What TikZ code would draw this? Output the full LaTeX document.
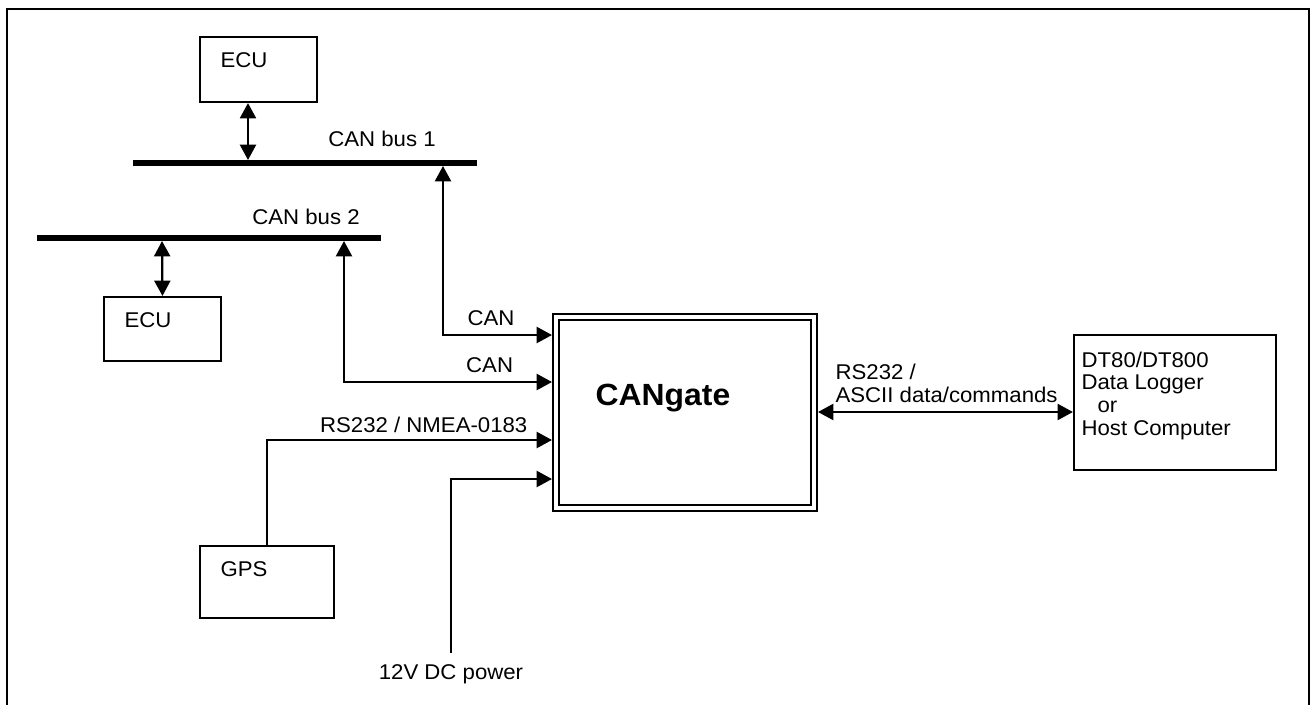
\documentclass[tikz,border=0pt]{standalone}
\usepackage{fontspec}
\setmainfont{Liberation Sans}[FakeStretch=1.04]
\usetikzlibrary{arrows.meta, positioning}

\begin{document}
\begin{tikzpicture}[
        x=0.75pt, y=-0.75pt,
        every node/.style={font=\fontsize{16}{17}\selectfont},
        unit/.style={rectangle, draw, line width=1.6pt, inner sep=0pt},
        gate/.style={rectangle, draw, line width=1.6pt, double, double distance=2.8pt, outer sep=3pt, minimum width=193.5pt, minimum height=143.25pt},
        bus/.style={line width=5pt},
        arrow/.style={-{Triangle[length=11.5pt,width=12pt]}, line width=1.7pt},
        biarrow/.style={{Triangle[length=11.5pt,width=12pt]}-{Triangle[length=11.5pt,width=12pt]}, line width=1.7pt},
        lbl/.style={inner sep=1pt, align=left},
        frame/.style={line width=1.3pt}
    ]
        \useasboundingbox (0,0) rectangle (1311,704);
        \draw[frame] (7,712) -- (7,9) -- (1309,9) -- (1309,712);

        % Buses
        \coordinate (busAw) at (133,163);
        \coordinate (busAe) at (477,163);
        \coordinate (busBw) at (37,238);
        \coordinate (busBe) at (381,238);
        \draw[bus] (busAw) -- (busAe);
        \draw[bus] (busBw) -- (busBe);
        \node (busAlbl) at (382,139) {CAN bus 1};
        \node (busBlbl) at (306,217) {CAN bus 2};
        \coordinate (tapAe) at (248,160);
        \coordinate (tapAg) at (443,166);
        \coordinate (tapBe) at (162,241);
        \coordinate (tapBg) at (344,241);

        % Units
        \node[unit, minimum width=87.75pt, minimum height=48.75pt] (ecuA) at (258.5,69.5) {};
        \node[lbl, below right=11.5pt and 15pt of ecuA.north west] (ecuAtxt) {ECU};
        \node[unit, minimum width=87.75pt, minimum height=48pt] (ecuB) at (162.5,329) {};
        \node[lbl, below right=11.5pt and 15pt of ecuB.north west] (ecuBtxt) {ECU};
        \node[unit, minimum width=100.5pt, minimum height=54pt] (gps) at (267,582) {};
        \node[lbl, below right=11.5pt and 15pt of gps.north west] (gpstxt) {GPS};
        \node[unit, minimum width=151.5pt, minimum height=101.25pt] (host) at (1175,402.5) {};
        \node[lbl, anchor=north west] (hosttxt) at (1080,350) {DT80/DT800\\Data Logger\\\hspace*{12pt}or\\Host Computer};

        % Gateway
        \node[gate] (gate) at (685,412.5) {};
        \node[font=\fontsize{23}{25}\selectfont\bfseries] (gatetxt) at (663,398) {CANgate};

        % Connections
        \draw[biarrow] (ecuA.south -| tapAe) -- (tapAe);
        \draw[biarrow] (tapBe) -- (ecuB.north);
        \draw[biarrow] (tapAg) |- node[lbl, above=5pt, pos=0.72] {CAN} (gate.west |- 0,335);
        \draw[biarrow] (tapBg) |- node[lbl, above=5pt, pos=0.85] {CAN} (gate.west |- 0,382);
        \draw[arrow] (gps.north) |- node[lbl, above=4pt, pos=0.775] {RS232 / NMEA-0183} (gate.west |- 0,440);
        \node[lbl, anchor=north] (power) at (451,663) {12V DC power};
        \draw[arrow] ([yshift=7.5pt]power.north) |- (gate.west |- 0,479);
        \draw[biarrow] (gate.east |- 0,412) -- (host.west |- 0,412);
        \node[lbl, anchor=south west] (rslbl) at (834,404) {RS232 /\\ASCII data/commands};
\end{tikzpicture}
\end{document}
